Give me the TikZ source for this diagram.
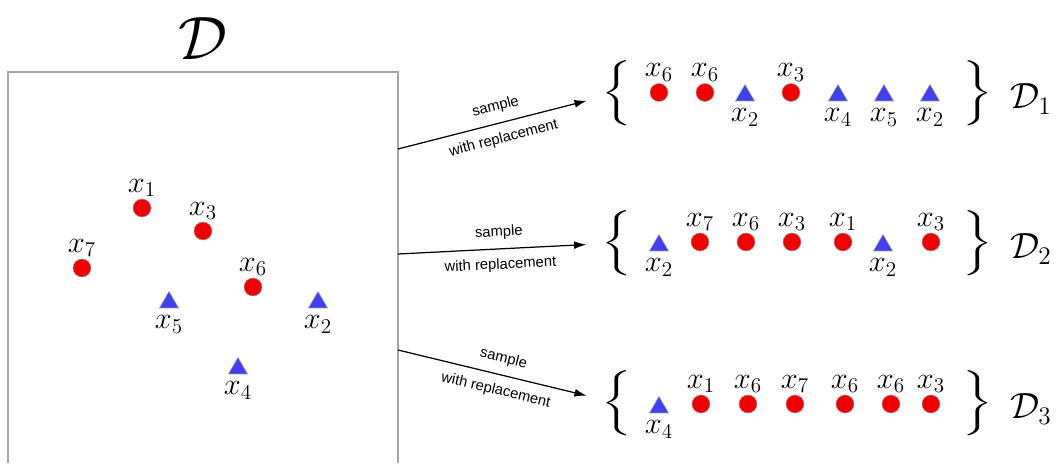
\documentclass[tikz,border=0pt]{standalone}
\usepackage{amsmath}
\usepackage{fontspec}
\newfontfamily\arrowfont{Liberation Sans}
\usetikzlibrary{shapes.geometric,arrows.meta}
\definecolor{ptred}{RGB}{240,0,0}
\definecolor{ptblue}{RGB}{64,64,240}
\newcommand{\setopen}{\scalebox{1.8}[1.03]{$\Bigg\{$}}
\newcommand{\setclose}{\scalebox{1.8}[1.03]{$\Bigg\}$}}
\tikzset{
  reddot/.style={circle, fill=ptred, draw=gray!80, line width=0.3pt, minimum size=0.36cm, inner sep=0pt},
  bluetri/.style={regular polygon, regular polygon sides=3, fill=ptblue, draw=gray!80, line width=0.3pt, minimum size=0.44cm, inner sep=0pt},
  lbl/.style={font=\LARGE, inner sep=1pt},
  lblb/.style={lbl, yshift=-3pt},
  brace/.style={inner sep=0pt, font=\fontsize{11.5}{14}\selectfont},
  arrowtxt/.style={font=\arrowfont\fontsize{8.4}{10}\selectfont, inner sep=1pt, sloped},
  samplearrow/.style={-{Latex[length=7pt,width=4.5pt]}, line width=0.7pt, shorten >=0.3cm},
}
\begin{document}
\begin{tikzpicture}[x=0.02cm, y=-0.02cm]
    \useasboundingbox (0,0) rectangle (1063,473);
    % Original data set
    \node[font=\Huge] (dtitle) at (203,39) {\scalebox{1.4}{$\mathcal{D}$}};
    \draw[gray!70, line width=0.6pt] (8,463) -- (8,72) -- (398,72) -- (398,463);
    \node[reddot, label={[lbl]above:$x_1$}] (x1) at (142,208) {};
    \node[reddot, label={[lbl]above:$x_3$}] (x3) at (203,231) {};
    \node[reddot, label={[lbl]above:$x_7$}] (x7) at (82,268) {};
    \node[reddot, label={[lbl]above:$x_6$}] (x6) at (253,287) {};
    \node[bluetri, label={[lblb]below:$x_5$}] (x5) at (169,302.5) {};
    \node[bluetri, label={[lblb]below:$x_2$}] (x2) at (318,302.5) {};
    \node[bluetri, label={[lblb]below:$x_4$}] (x4) at (238,368.5) {};
    % Sample 1
    \node[brace] (l1) at (617,93) {\setopen};
    \node[brace] (r1) at (978,93) {\setclose};
    \node[font=\huge] (d1) at (1031,99) {$\mathcal{D}_1$};
    \foreach \xx/\ii in {659/6, 705/6, 791/3}
        \node[reddot, label={[lbl]above:$x_{\ii}$}] (a\xx) at (\xx,92.5) {};
    \foreach \xx/\ii in {745/2, 838/4, 884/5, 930/2}
        \node[bluetri, label={[lblb]below:$x_{\ii}$}] (a\xx) at (\xx,95.5) {};
    % Sample 2
    \node[brace] (l2) at (617,243) {\setopen};
    \node[brace] (r2) at (978,243) {\setclose};
    \node[font=\huge] (d2) at (1031,249) {$\mathcal{D}_2$};
    \foreach \xx/\ii in {700/7, 746/6, 792/3, 843/1, 931/3}
        \node[reddot, label={[lbl]above:$x_{\ii}$}] (b\xx) at (\xx,242) {};
    \foreach \xx/\ii in {659/2, 883/2}
        \node[bluetri, label={[lblb]below:$x_{\ii}$}] (b\xx) at (\xx,245.5) {};
    % Sample 3
    \node[brace] (l3) at (617,403) {\setopen};
    \node[brace] (r3) at (978,403) {\setclose};
    \node[font=\huge] (d3) at (1031,409) {$\mathcal{D}_3$};
    \foreach \xx/\ii in {701/1, 748/6, 795/7, 845/6, 891/6, 931/3}
        \node[reddot, label={[lbl]above:$x_{\ii}$}] (c\xx) at (\xx,404) {};
    \node[bluetri, label={[lblb]below:$x_4$}] (c659) at (659,407.5) {};
    % Arrows
    \coordinate (s1) at (398,149);
    \coordinate (s2) at (398,254);
    \coordinate (s3) at (398,350);
    \draw[samplearrow] (s1) -- (l1)
        node[arrowtxt, midway, above=4pt] {sample}
        node[arrowtxt, midway, below=4pt] {with replacement};
    \draw[samplearrow] (s2) -- (l2)
        node[arrowtxt, midway, above=4pt] {sample}
        node[arrowtxt, midway, below=4pt] {with replacement};
    \draw[samplearrow] (s3) -- (l3)
        node[arrowtxt, midway, above=4pt] {sample}
        node[arrowtxt, midway, below=4pt] {with replacement};
\end{tikzpicture}
\end{document}
